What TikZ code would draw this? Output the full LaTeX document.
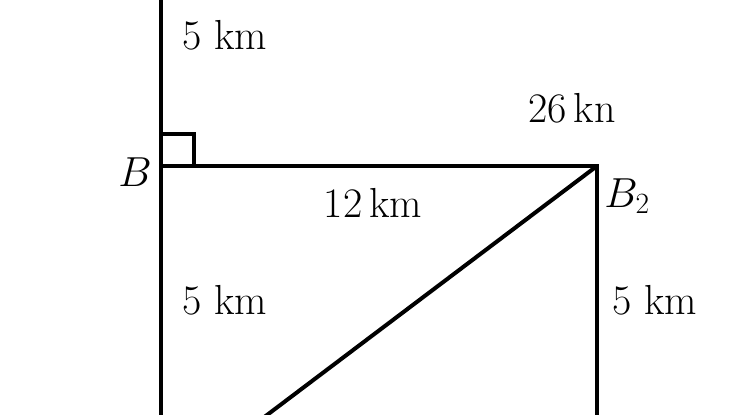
\RequirePackage{fix-cm}
\documentclass[tikz,border=0pt]{standalone}
\begin{document}
\begin{tikzpicture}[x=1pt,y=-1pt,line width=4pt,
  lbl/.style = {font=\fontsize{42}{50}\selectfont,inner sep=0pt}]
\useasboundingbox (0,0) rectangle (750,415);
\clip (0,0) rectangle (750,415);
\coordinate (top) at (161,-20);
\coordinate (B) at (161,166);
\coordinate (B2) at (597,166);
\coordinate (A) at (161,495);
\coordinate (C) at (597,495);
\draw (top) -- (A);
\draw (B) -- (B2) -- (C);
\draw (B2) -- (A);
% right angle at B
\draw[line width=3.5pt] (161,134) -- (194,134) -- (194,166);
\node[lbl] (upper) at (225,35) {5 km};
\node[lbl] (diag) at (572,108) {26\,kn};
\node[lbl] (labB) at (135,172) {$B$};
\node[lbl] (base) at (373,203) {12\,km};
\node[lbl] (labB2) at (627,196) {$B_2$};
\node[lbl] (left) at (225,300) {5 km};
\node[lbl] (right) at (655,300) {5 km};
\end{tikzpicture}
\end{document}
